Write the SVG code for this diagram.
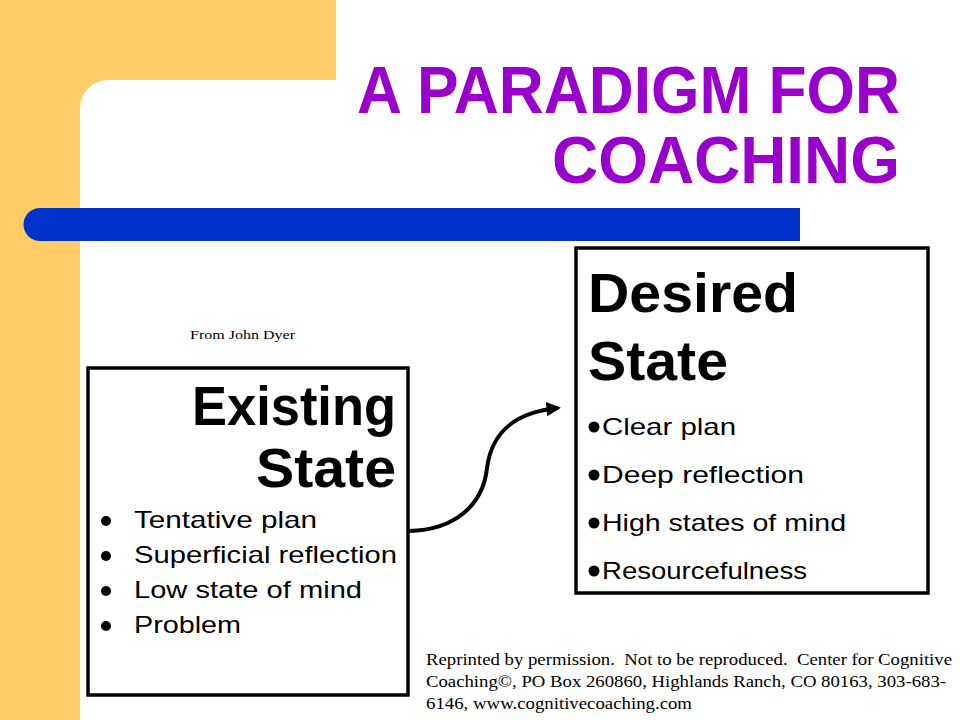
<svg xmlns="http://www.w3.org/2000/svg" width="960" height="720" viewBox="0 0 960 720">
<defs>
<style>
.title{font-family:"Liberation Sans",Arial,sans-serif;font-weight:bold;font-size:67px;fill:#9900CC;text-anchor:end}
.head{font-family:"Liberation Sans",Arial,sans-serif;font-weight:bold;font-size:56px;fill:#000}
.item{font-family:"Liberation Sans",Arial,sans-serif;font-size:24px;fill:#000}
.note{font-family:"Liberation Serif","Times New Roman",serif;fill:#000;white-space:pre}
.box{fill:#fff;stroke:#000;stroke-width:3.5}
</style>
<marker id="arrow" viewBox="0 0 10 10" refX="8" refY="5" markerWidth="3.6" markerHeight="3.6" orient="auto" markerUnits="strokeWidth">
<path d="M0,0 L10,5 L0,10 Z" fill="#000"/>
</marker>
</defs>
<rect width="960" height="720" fill="#fff"/>
<path d="M0,0 H336 V80 H108 A28,28 0 0 0 80,108 V720 H0 Z" fill="#FFCC66"/>
<path d="M40,208 H800 V241 H40 A16.5,16.5 0 0 1 40,208 Z" fill="#0033CC"/>
<g id="title">
<text class="title" x="900" y="113" textLength="543" lengthAdjust="spacingAndGlyphs">A PARADIGM FOR</text>
<text class="title" x="900" y="183" textLength="348" lengthAdjust="spacingAndGlyphs">COACHING</text>
</g>
<text class="note" x="190" y="339" font-size="13" textLength="105" lengthAdjust="spacingAndGlyphs">From John Dyer</text>
<g id="existing">
<rect class="box" x="88" y="368" width="320" height="327"/>
<text class="head" x="396" y="425" text-anchor="end" textLength="204" lengthAdjust="spacingAndGlyphs">Existing</text>
<text class="head" x="396" y="487" text-anchor="end" textLength="140" lengthAdjust="spacingAndGlyphs">State</text>
<circle cx="106" cy="521" r="5"/>
<circle cx="106" cy="556" r="5"/>
<circle cx="106" cy="591" r="5"/>
<circle cx="106" cy="626" r="5"/>
<text class="item" x="134" y="528" textLength="183" lengthAdjust="spacingAndGlyphs">Tentative plan</text>
<text class="item" x="134" y="563" textLength="263" lengthAdjust="spacingAndGlyphs">Superficial reflection</text>
<text class="item" x="134" y="598" textLength="228" lengthAdjust="spacingAndGlyphs">Low state of mind</text>
<text class="item" x="134" y="633" textLength="107" lengthAdjust="spacingAndGlyphs">Problem</text>
</g>
<g id="desired">
<rect class="box" x="576" y="248" width="352" height="345"/>
<text class="head" x="588" y="312" textLength="210" lengthAdjust="spacingAndGlyphs">Desired</text>
<text class="head" x="588" y="380" textLength="140" lengthAdjust="spacingAndGlyphs">State</text>
<circle cx="594" cy="427" r="5.5"/>
<circle cx="594" cy="475" r="5.5"/>
<circle cx="594" cy="523" r="5.5"/>
<circle cx="594" cy="571" r="5.5"/>
<text class="item" x="602" y="435" textLength="134" lengthAdjust="spacingAndGlyphs">Clear plan</text>
<text class="item" x="602" y="483" textLength="202" lengthAdjust="spacingAndGlyphs">Deep reflection</text>
<text class="item" x="602" y="531" textLength="244" lengthAdjust="spacingAndGlyphs">High states of mind</text>
<text class="item" x="602" y="579" textLength="205" lengthAdjust="spacingAndGlyphs">Resourcefulness</text>
</g>
<g id="connectors">
<path d="M409,531 C455,530 483,505 487,468 C492,430 517,412 558,408" fill="none" stroke="#000" stroke-width="4" marker-end="url(#arrow)"/>
</g>
<g id="footer">
<text class="note" x="426" y="665" font-size="16" textLength="526" lengthAdjust="spacingAndGlyphs">Reprinted by permission.  Not to be reproduced.  Center for Cognitive</text>
<text class="note" x="426" y="687" font-size="16" textLength="520" lengthAdjust="spacingAndGlyphs">Coaching©, PO Box 260860, Highlands Ranch, CO 80163, 303-683-</text>
<text class="note" x="426" y="709" font-size="16" textLength="266" lengthAdjust="spacingAndGlyphs">6146, www.cognitivecoaching.com</text>
</g>
</svg>
